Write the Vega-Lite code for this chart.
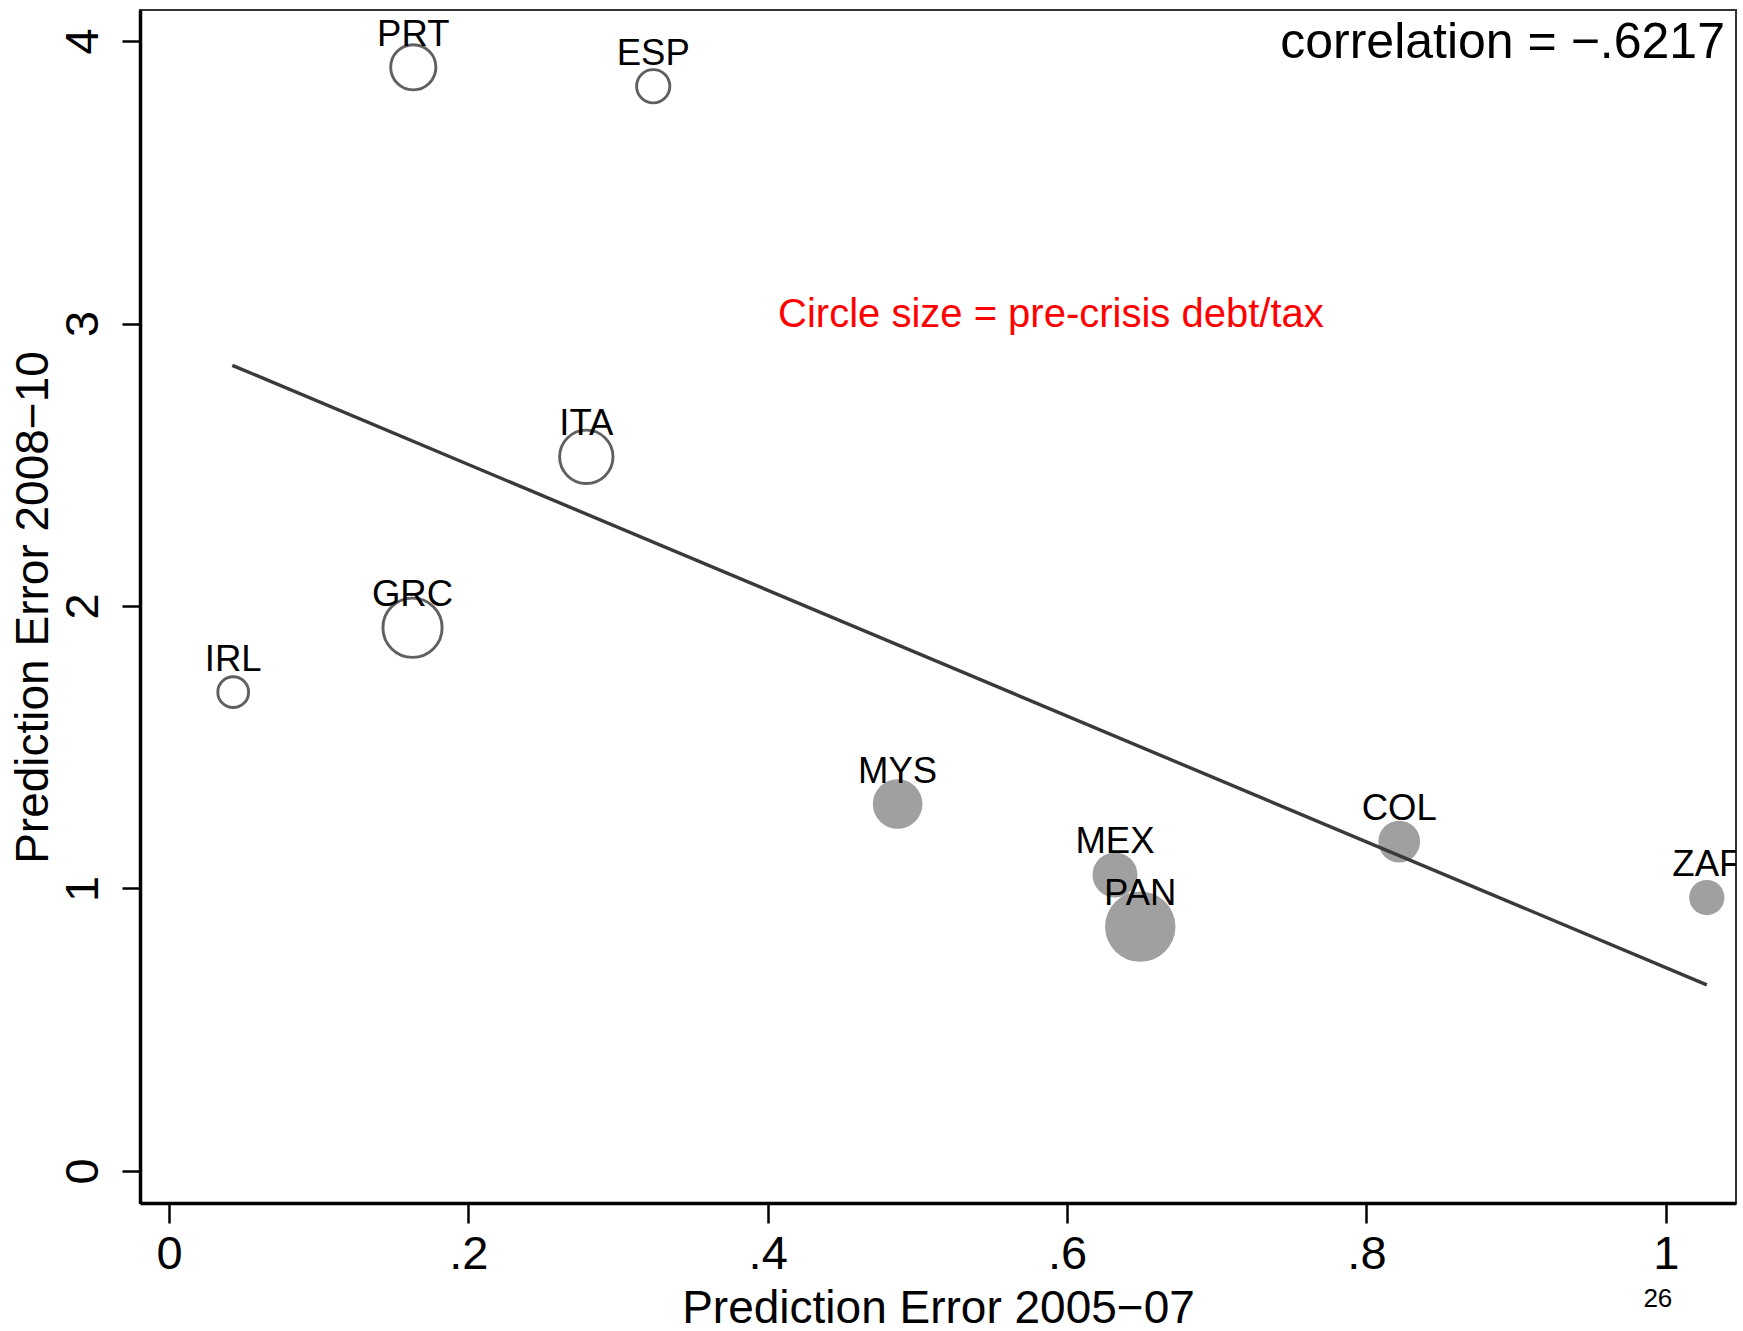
{
  "$schema": "https://vega.github.io/schema/vega-lite/v6.json",
  "autosize": "none",
  "width": 1596,
  "height": 1193,
  "padding": {"left": 140, "top": 10, "right": 7, "bottom": 128},
  "background": "white",
  "config": {
    "font": "Liberation Sans",
    "view": {"stroke": "#333333", "strokeWidth": 2},
    "axis": {"grid": false},
    "axisX": {
      "labelFontSize": 47, "labelColor": "#000", "labelFont": "Liberation Sans",
      "labelAlign": "center", "labelBaseline": "alphabetic", "labelPadding": 45,
      "labelOverlap": false, "labelFlush": false,
      "tickSize": 20, "tickWidth": 2.5, "tickColor": "#000",
      "domain": true, "domainColor": "#000", "domainWidth": 3.5,
      "titleFontSize": 46, "titleFontWeight": "normal", "titleColor": "#000", "titleFont": "Liberation Sans",
      "titleAlign": "center", "titleBaseline": "alphabetic", "titleX": 798, "titleY": 119
    },
    "axisY": {
      "labelFontSize": 47, "labelColor": "#000", "labelFont": "Liberation Sans",
      "labelAngle": -90, "labelAlign": "center", "labelBaseline": "alphabetic", "labelPadding": 25,
      "labelOverlap": false, "labelFlush": false,
      "tickSize": 18, "tickWidth": 2.5, "tickColor": "#000",
      "domain": true, "domainColor": "#000", "domainWidth": 3.5,
      "titleFontSize": 46, "titleFontWeight": "normal", "titleColor": "#000", "titleFont": "Liberation Sans",
      "titleAngle": -90, "titleAlign": "center", "titleBaseline": "alphabetic", "titleX": -93, "titleY": 597
    }
  },
  "datasets": {
    "countries": [
      {"country": "PRT", "err0507": 0.1632, "err0810": 3.907, "debt_tax": 5.11, "group": "advanced"},
      {"country": "ESP", "err0507": 0.3235, "err0810": 3.840, "debt_tax": 2.76, "group": "advanced"},
      {"country": "ITA", "err0507": 0.2788, "err0810": 2.528, "debt_tax": 7.13, "group": "advanced"},
      {"country": "GRC", "err0507": 0.1627, "err0810": 1.923, "debt_tax": 8.76, "group": "advanced"},
      {"country": "IRL", "err0507": 0.0429, "err0810": 1.695, "debt_tax": 2.37, "group": "advanced"},
      {"country": "MYS", "err0507": 0.4868, "err0810": 1.299, "debt_tax": 6.15, "group": "emerging"},
      {"country": "MEX", "err0507": 0.6320, "err0810": 1.048, "debt_tax": 5.06, "group": "emerging"},
      {"country": "PAN", "err0507": 0.6489, "err0810": 0.865, "debt_tax": 12.39, "group": "emerging"},
      {"country": "COL", "err0507": 0.8219, "err0810": 1.166, "debt_tax": 4.37, "group": "emerging"},
      {"country": "ZAF", "err0507": 1.0274, "err0810": 0.968, "debt_tax": 3.10, "group": "emerging"}
    ],
    "fit": [
      {"err0507": 0.0423, "err0810": 2.852},
      {"err0507": 1.0274, "err0810": 0.659}
    ]
  },
  "layer": [
    {
      "data": {"name": "countries"},
      "transform": [{"filter": "datum.group == 'emerging'"}],
      "mark": {"type": "circle", "fill": "#a0a0a0", "opacity": 1, "stroke": null},
      "encoding": {
        "x": {"field": "err0507", "type": "quantitative", "title": "Prediction Error 2005−07",
          "scale": {"domain": [-0.01937, 1.0469], "nice": false, "zero": false},
          "axis": {"values": [0, 0.2, 0.4, 0.6, 0.8, 1],
            "labelExpr": "datum.value == 0 ? '0' : (datum.value == 1 ? '1' : '.' + format(datum.value * 10, 'd'))"}},
        "y": {"field": "err0810", "type": "quantitative", "title": "Prediction Error 2008−10",
          "scale": {"domain": [-0.1133, 4.1098], "nice": false, "zero": false},
          "axis": {"values": [0, 1, 2, 3, 4], "format": "d"}},
        "size": {"field": "debt_tax", "type": "quantitative", "scale": {"type": "linear", "domain": [0, 10], "range": [0, 4000]}, "legend": null}
      }
    },
    {
      "data": {"name": "countries"},
      "transform": [{"filter": "datum.group == 'advanced'"}],
      "mark": {"type": "point", "shape": "circle", "filled": false, "stroke": "#606060", "strokeWidth": 2.9, "opacity": 1},
      "encoding": {
        "x": {"field": "err0507", "type": "quantitative", "title": "Prediction Error 2005−07",
          "scale": {"domain": [-0.01937, 1.0469], "nice": false, "zero": false}},
        "y": {"field": "err0810", "type": "quantitative", "title": "Prediction Error 2008−10",
          "scale": {"domain": [-0.1133, 4.1098], "nice": false, "zero": false}},
        "size": {"field": "debt_tax", "type": "quantitative", "scale": {"type": "linear", "domain": [0, 10], "range": [0, 4000]}, "legend": null}
      }
    },
    {
      "data": {"name": "fit"},
      "mark": {"type": "line", "color": "#3a3a3a", "strokeWidth": 3.4},
      "encoding": {
        "x": {"field": "err0507", "type": "quantitative", "title": "Prediction Error 2005−07",
          "scale": {"domain": [-0.01937, 1.0469], "nice": false, "zero": false}},
        "y": {"field": "err0810", "type": "quantitative", "title": "Prediction Error 2008−10",
          "scale": {"domain": [-0.1133, 4.1098], "nice": false, "zero": false}}
      }
    },
    {
      "data": {"name": "countries"},
      "mark": {"type": "text", "align": "center", "baseline": "alphabetic", "dy": -21.5, "fontSize": 36.5, "color": "#000", "clip": true},
      "encoding": {
        "x": {"field": "err0507", "type": "quantitative", "title": "Prediction Error 2005−07",
          "scale": {"domain": [-0.01937, 1.0469], "nice": false, "zero": false}},
        "y": {"field": "err0810", "type": "quantitative", "title": "Prediction Error 2008−10",
          "scale": {"domain": [-0.1133, 4.1098], "nice": false, "zero": false}},
        "text": {"field": "country", "type": "nominal"}
      }
    },
    {
      "data": {"values": [{"note": "correlation = −.6217"}]},
      "mark": {"type": "text", "align": "right", "baseline": "alphabetic", "fontSize": 50, "color": "#000"},
      "encoding": {
        "x": {"datum": 1.03955, "type": "quantitative"},
        "y": {"datum": 3.9412, "type": "quantitative"},
        "text": {"field": "note", "type": "nominal"}
      }
    },
    {
      "data": {"values": [{"note": "Circle size = pre-crisis debt/tax"}]},
      "mark": {"type": "text", "align": "left", "baseline": "alphabetic", "fontSize": 40, "color": "#ff0000"},
      "encoding": {
        "x": {"datum": 0.4069, "type": "quantitative"},
        "y": {"datum": 2.9862, "type": "quantitative"},
        "text": {"field": "note", "type": "nominal"}
      }
    },
    {
      "data": {"values": [{"note": "26"}]},
      "mark": {"type": "text", "align": "center", "baseline": "alphabetic", "fontSize": 26, "color": "#000"},
      "encoding": {
        "x": {"datum": 0.9947, "type": "quantitative"},
        "y": {"datum": -0.4816, "type": "quantitative"},
        "text": {"field": "note", "type": "nominal"}
      }
    }
  ]
}
